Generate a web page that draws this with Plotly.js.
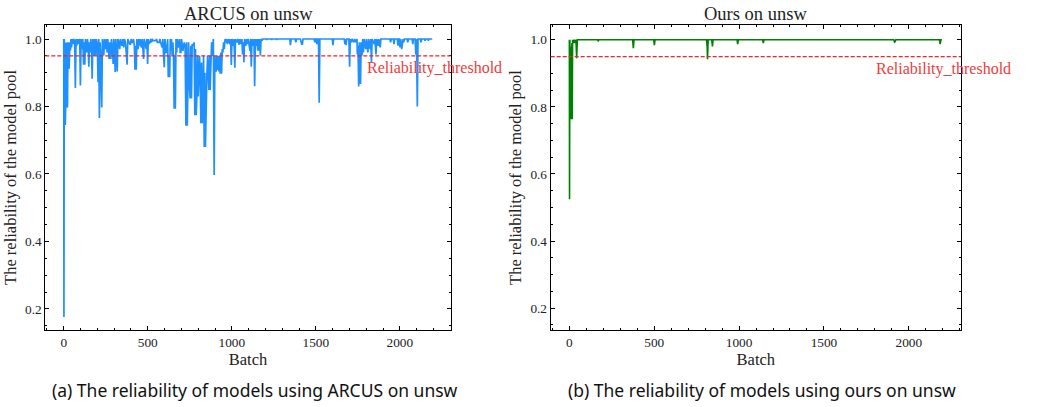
<!DOCTYPE html>
<html><head><meta charset="utf-8">
<script src="https://cdn.plot.ly/plotly-3.0.1.min.js"></script>
<style>html,body{margin:0;padding:0;background:#fff}</style>
</head><body><div id="chart" style="width:1041px;height:407px"></div>
<script>
// ---- ARCUS on unsw: reliability per batch ----
const arcusBatch = [
  0,1,3,5,7,9,11,13,15,18,
  20,22,25,27,30,32,35,38,40,43,
  46,50,55,60,65,69,73,77,81,90,
  95,99,103,109,113,118,121,125,129,137,
  141,146,149,153,157,161,165,169,173,180,
  184,190,194,200,204,208,212,216,220,226,
  230,238,242,250,254,258,262,266,270,274,
  280,284,290,294,298,302,306,310,314,318,
  322,328,333,337,342,347,351,357,361,367,
  372,377,381,388,393,397,401,405,409,415,
  420,424,428,431,435,443,447,459,463,467,
  471,475,479,487,491,495,499,503,510,514,
  518,532,540,548,552,562,568,572,582,586,
  590,594,598,602,610,614,618,622,626,630,
  634,638,641,645,649,653,657,661,664,668,
  672,676,681,685,689,693,697,701,705,709,
  713,717,722,727,731,735,739,743,747,752,
  756,760,764,770,776,780,784,788,792,796,
  800,804,808,812,816,820,824,828,832,836,
  840,843,847,852,856,860,864,868,871,875,
  880,885,890,895,899,903,907,911,915,919,
  923,927,931,935,939,943,947,951,955,960,
  965,969,977,981,989,993,997,1001,1005,1009,
  1013,1018,1022,1028,1032,1036,1040,1044,1048,1052,
  1056,1060,1064,1068,1072,1076,1080,1084,1088,1094,
  1098,1104,1108,1112,1116,1120,1124,1128,1132,1136,
  1140,1146,1150,1154,1158,1162,1166,1170,1174,1180,
  1184,1205,1207,1209,1235,1237,1239,1265,1267,1269,
  1345,1349,1353,1377,1381,1385,1408,1412,1416,1420,
  1424,1490,1494,1498,1502,1506,1510,1516,1520,1524,
  1598,1602,1606,1669,1673,1677,1680,1684,1697,1701,
  1705,1712,1716,1727,1731,1741,1745,1747,1751,1755,
  1759,1766,1770,1775,1779,1783,1787,1797,1801,1810,
  1814,1823,1827,1831,1835,1848,1852,1858,1862,1871,
  1875,1883,1887,1941,1945,1949,1961,1965,1969,1985,
  1989,1993,1997,2001,2005,2011,2015,2019,2023,2027,
  2043,2047,2051,2073,2077,2081,2091,2095,2099,2104,
  2108,2122,2126,2130,2146,2150,2154,2166,2170,2174,
  2193
];
const arcusReliability = [
  1.0,0.176,1.0,0.745,0.99,0.745,0.797,0.99,0.797,0.80,
  0.99,0.797,0.99,0.912,0.99,0.912,0.97,0.99,0.966,1.0,
  0.975,1.0,0.985,1.0,0.99,0.855,1.0,0.98,1.0,0.99,
  1.0,0.862,1.0,0.97,1.0,0.924,0.99,0.924,1.0,0.96,
  1.0,0.97,0.918,0.99,0.96,1.0,0.97,0.882,1.0,0.95,
  1.0,0.951,1.0,0.98,0.872,1.0,0.766,0.99,0.95,0.797,
  1.0,0.951,1.0,0.97,1.0,0.96,1.0,0.97,0.941,0.99,
  0.941,1.0,0.97,0.926,1.0,0.97,0.902,1.0,0.96,0.904,
  1.0,0.99,0.97,1.0,0.985,0.98,1.0,0.975,1.0,0.99,
  0.96,0.924,1.0,0.99,0.985,0.985,1.0,0.99,0.99,1.0,
  0.98,0.909,0.98,0.909,1.0,0.97,1.0,0.98,0.975,1.0,
  0.96,0.941,1.0,0.98,0.97,1.0,0.926,1.0,0.99,0.99,
  1.0,0.995,0.995,0.995,1.0,0.99,0.99,1.0,0.98,0.975,
  1.0,0.95,0.916,1.0,0.96,0.96,1.0,0.887,0.95,0.887,
  1.0,0.97,1.0,0.951,0.99,0.951,0.793,0.95,0.793,1.0,
  0.96,1.0,0.975,0.98,1.0,0.96,0.96,1.0,0.965,0.965,
  0.98,0.99,0.98,0.743,0.99,0.743,0.868,0.99,0.868,0.824,
  0.98,0.824,0.985,0.98,0.99,0.774,0.97,0.774,0.83,0.95,
  0.83,0.878,0.95,0.878,0.75,0.93,0.75,0.82,0.95,0.68,
  0.9,0.68,0.85,0.898,0.95,0.898,0.849,0.95,0.849,0.916,
  0.99,0.95,1.0,0.597,0.95,0.926,0.903,0.95,0.908,0.95,
  0.904,0.95,0.897,0.96,0.897,0.97,0.96,0.99,0.97,1.0,
  0.99,1.0,0.99,1.0,0.985,1.0,0.923,1.0,0.98,0.98,
  1.0,0.915,1.0,0.99,0.99,1.0,0.983,0.983,1.0,0.985,
  0.985,1.0,0.954,0.99,0.931,1.0,0.98,0.98,1.0,0.99,
  1.0,0.965,0.965,1.0,0.918,1.0,0.98,0.98,1.0,0.86,
  1.0,0.98,1.0,0.965,1.0,0.965,1.0,0.951,1.0,0.995,
  1.0,1.0,0.997,1.0,1.0,0.997,1.0,1.0,0.997,1.0,
  1.0,0.982,1.0,1.0,0.99,1.0,1.0,0.985,0.985,0.985,
  1.0,1.0,0.99,1.0,1.0,0.985,1.0,1.0,0.811,1.0,
  1.0,0.982,1.0,1.0,0.985,1.0,0.982,1.0,1.0,0.918,
  1.0,0.99,1.0,0.99,1.0,0.99,1.0,0.954,0.98,0.859,
  0.99,0.867,0.99,0.951,1.0,0.96,1.0,0.97,1.0,0.96,
  1.0,0.97,1.0,0.931,1.0,0.985,1.0,0.954,1.0,0.98,
  1.0,0.975,1.0,1.0,0.99,1.0,1.0,0.985,1.0,1.0,
  0.98,1.0,1.0,0.975,1.0,0.97,1.0,1.0,0.99,1.0,
  1.0,0.99,1.0,1.0,0.985,1.0,1.0,0.954,1.0,0.8,
  1.0,1.0,0.99,1.0,1.0,0.995,1.0,1.0,0.995,1.0,
  1.0
];
// further shallow dips seen in the dense band near the top
const arcusExtraBatch = [85, 87, 133, 187, 246, 451, 455, 506, 522, 526, 557, 577, 606, 973, 985, 1091];
const arcusExtraReliability = [0.985, 1.0, 0.98, 0.98, 0.985, 0.98, 1.0, 0.985, 0.99, 1.0, 0.99, 0.985, 0.975, 0.985, 0.99, 0.985];

// ---- Ours on unsw ----
const oursBatch = [
  0,1,3,5,7,9,11,13,15,17,
  19,24,28,35,39,43,47,166,170,174,
  373,377,381,497,501,505,808,812,814,818,
  839,843,847,988,992,996,1139,1143,1147,1912,
  1916,1920,1924,2181,2185,2189,2195
];
const oursReliability = [
  1.0,0.525,1.0,0.763,0.98,0.763,0.9,0.763,0.99,0.763,
  1.0,0.99,1.0,0.99,1.0,0.945,1.0,1.0,0.997,1.0,
  1.0,0.975,1.0,1.0,0.984,1.0,1.0,0.98,0.942,1.0,
  1.0,0.98,1.0,1.0,0.987,1.0,1.0,0.99,1.0,1.0,
  0.993,0.995,1.0,1.0,0.987,1.0,1.0
];

const reliabilityThreshold = 0.95;
const batchTicks = [0, 500, 1000, 1500, 2000];
const batchTickText = ['0', '500', '1000', '1500', '2000'];
const relTicks = [0.2, 0.4, 0.6, 0.8, 1.0];
const relTickText = ['0.2', '0.4', '0.6', '0.8', '1.0'];
const panelTitles = ['ARCUS on unsw', 'Ours on unsw'];
const captions = ['(a) The reliability of models using ARCUS on unsw',
                  '(b) The reliability of models using ours on unsw'];
const xLabel = 'Batch';
const yLabel = 'The reliability of the model pool';
const thresholdLabel = 'Reliability_threshold';

// merge the ARCUS readings in batch order
const arcusPts = arcusBatch.map((b, i) => [b, arcusReliability[i]])
  .concat(arcusExtraBatch.map((b, i) => [b, arcusExtraReliability[i]]))
  .sort((a, b) => a[0] - b[0]);

// ---- styling ----
const serif = "'Liberation Serif', 'DejaVu Serif', serif";
const sans = "'Noto Sans', 'DejaVu Sans', sans-serif";

function xAxis(domain, anchor, range) {
  return {
    domain: domain, anchor: anchor, range: range,
    tickmode: 'array', tickvals: batchTicks, ticktext: batchTickText,
    ticks: 'inside', ticklen: 4, tickwidth: 1, tickcolor: '#000',
    minor: {tickmode: 'linear', tick0: 0, dtick: 100, ticks: 'inside', ticklen: 2, tickwidth: 1, tickcolor: '#000', showgrid: false},
    mirror: 'allticks', showline: true, linecolor: '#000', linewidth: 1,
    showgrid: false, zeroline: false, automargin: false,
    tickfont: {family: serif, size: 13.3, color: '#222'},
    title: {text: xLabel, font: {family: serif, size: 16.5, color: '#222'}, standoff: 3}
  };
}
function yAxis(domain, anchor, range) {
  return {
    domain: domain, anchor: anchor, range: range,
    tickmode: 'array', tickvals: relTicks, ticktext: relTickText,
    ticks: 'inside', ticklen: 4, tickwidth: 1, tickcolor: '#000',
    minor: {tickmode: 'linear', tick0: 0, dtick: 0.05, ticks: 'inside', ticklen: 2, tickwidth: 1, tickcolor: '#000', showgrid: false},
    mirror: 'allticks', showline: true, linecolor: '#000', linewidth: 1,
    showgrid: false, zeroline: false, automargin: false,
    tickfont: {family: serif, size: 13.3, color: '#222'},
    title: {text: yLabel, font: {family: serif, size: 16.5, color: '#222'}, standoff: 4}
  };
}

const data = [
  {x: arcusPts.map(p => p[0]), y: arcusPts.map(p => p[1]), type: 'scatter', mode: 'lines',
   line: {color: '#1E90FF', width: 1.7}, xaxis: 'x', yaxis: 'y', hoverinfo: 'skip'},
  {x: oursBatch, y: oursReliability, type: 'scatter', mode: 'lines',
   line: {color: '#008000', width: 1.6}, xaxis: 'x2', yaxis: 'y2', hoverinfo: 'skip'}
];

const yRange = [0.136, 1.043];
const layout = {
  width: 1041, height: 407,
  margin: {l: 0, r: 0, t: 0, b: 0},
  paper_bgcolor: '#fff', plot_bgcolor: '#fff',
  font: {family: serif, color: '#222'},
  showlegend: false,
  xaxis: xAxis([0.0435, 0.4330], 'y', [-110, 2303]),
  yaxis: yAxis([0.188, 0.9398], 'x', yRange),
  xaxis2: xAxis([0.5290, 0.9232], 'y2', [-110, 2308]),
  yaxis2: yAxis([0.190, 0.9378], 'x2', yRange),
  shapes: [
    {type: 'line', xref: 'x domain', x0: 0, x1: 1, yref: 'y', y0: reliabilityThreshold, y1: reliabilityThreshold,
     line: {color: '#e8262b', width: 1.2, dash: '4px,2px'}},
    {type: 'line', xref: 'x2 domain', x0: 0, x1: 1, yref: 'y2', y0: reliabilityThreshold, y1: reliabilityThreshold,
     line: {color: '#e8262b', width: 1.2, dash: '4px,2px'}}
  ],
  annotations: [
    {text: panelTitles[0], xref: 'x domain', yref: 'paper', x: 0.5, y: 1 - 13.5/407, xanchor: 'center', yanchor: 'middle',
     showarrow: false, font: {family: serif, size: 18.5, color: '#222'}},
    {text: panelTitles[1], xref: 'x2 domain', yref: 'paper', x: 0.5, y: 1 - 13.5/407, xanchor: 'center', yanchor: 'middle',
     showarrow: false, font: {family: serif, size: 18.5, color: '#222'}},
    {text: thresholdLabel, xref: 'x', yref: 'y', x: 1795, y: 0.913, xanchor: 'left', yanchor: 'middle',
     showarrow: false, font: {family: serif, size: 16, color: '#f03c3c'}},
    {text: thresholdLabel, xref: 'x2', yref: 'y2', x: 1795, y: 0.913, xanchor: 'left', yanchor: 'middle',
     showarrow: false, font: {family: serif, size: 16, color: '#f03c3c'}},
    {text: captions[0], xref: 'paper', yref: 'paper', x: 254.5/1041, y: 1 - 390/407, xanchor: 'center', yanchor: 'middle',
     showarrow: false, font: {family: sans, size: 17.5, color: '#111'}},
    {text: captions[1], xref: 'paper', yref: 'paper', x: 761.7/1041, y: 1 - 390/407, xanchor: 'center', yanchor: 'middle',
     showarrow: false, font: {family: sans, size: 17.5, color: '#111'}}
  ]
};

Plotly.newPlot('chart', data, layout, {staticPlot: true, displayModeBar: false});
</script>
</body></html>
